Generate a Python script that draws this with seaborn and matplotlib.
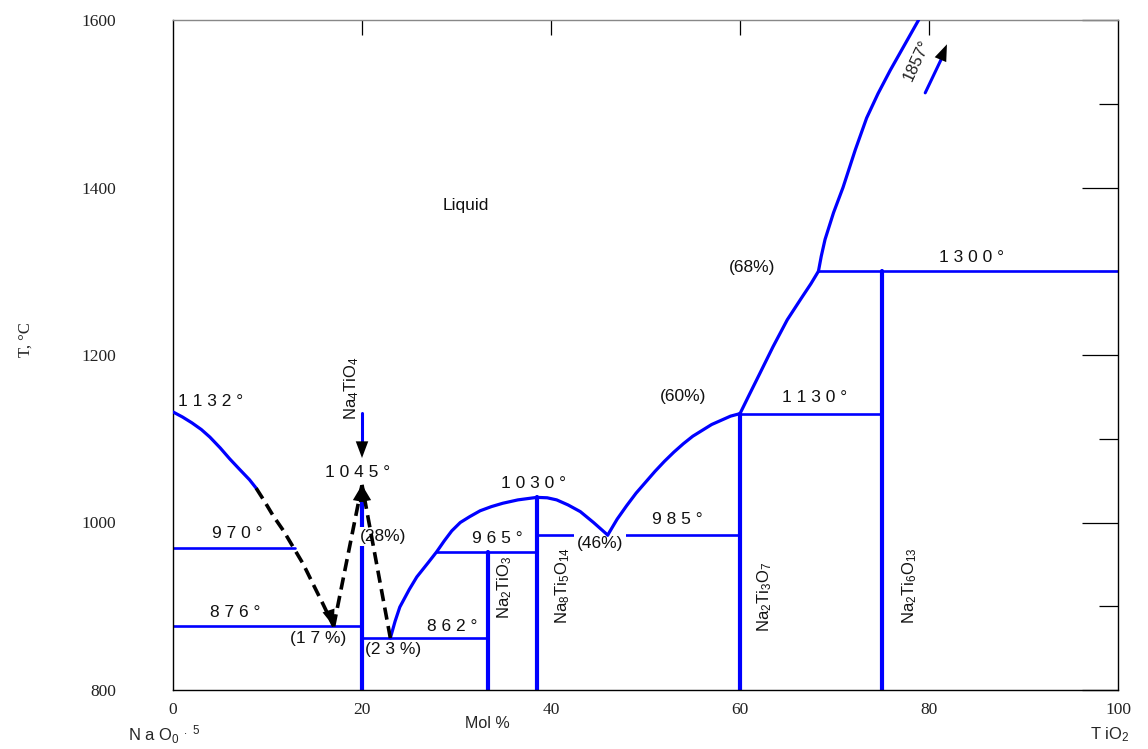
import matplotlib
matplotlib.use("Agg")
import matplotlib.pyplot as plt
from matplotlib.ticker import MultipleLocator
import seaborn as sns

# ---- phase-diagram data: NaO0.5 - TiO2 (mol % TiO2, temperature in deg C) ----
# liquidus, Na-rich side (solid part)
liq_na_x = [0, 1.0, 2.0, 3.0, 3.9, 5.0, 6.0, 7.0, 8.1, 8.8]
liq_na_t = [1132, 1126, 1119, 1111, 1102, 1089, 1076, 1064, 1051, 1041]
# uncertain (dashed) liquidus branches
dash_a_x = [8.8, 9.7, 10.6, 11.7, 12.7, 13.8, 14.8, 15.9, 17.0]
dash_a_t = [1041, 1025, 1008, 990, 971, 950, 927, 902, 876]
dash_b_x = [17.0, 20.0]
dash_b_t = [876, 1045]
dash_c_x = [23.0, 20.0]
dash_c_t = [862, 1045]
# liquidus between 23 % and 46 %
liq_mid_x = [23.0, 23.5, 24.0, 25.0, 25.8, 27.0, 27.9, 28.7, 29.5, 30.4, 31.4,
             32.5, 33.7, 34.9, 36.5, 38.5, 39.6, 40.6, 41.8, 43.1, 44.5, 46.0]
liq_mid_t = [862, 882, 899, 920, 935, 952, 965, 978, 990, 1000, 1007,
             1014, 1019, 1023, 1027, 1030, 1029.5, 1027, 1021, 1013, 1000, 985]
# liquidus between 46 % and 60 %
liq_r_x = [46.0, 47.0, 48.0, 49.0, 50.0, 51.0, 52.0, 53.0, 54.0, 55.0, 56.0,
           57.0, 58.0, 59.0, 60.0]
liq_r_t = [985, 1004, 1020, 1035, 1048, 1061, 1073, 1084, 1094, 1103, 1110,
           1117, 1122, 1127, 1130]
# liquidus from 60 % to 68 %
liq_u_x = [60.0, 61.0, 62.1, 63.5, 65.0, 66.5, 67.5, 68.3]
liq_u_t = [1130, 1153, 1178, 1210, 1242, 1268, 1285, 1300]
# TiO2 liquidus above 68 %
liq_ti_x = [68.3, 68.6, 69.0, 69.9, 70.9, 72.2, 73.4, 74.6, 75.9, 77.4, 78.9]
liq_ti_t = [1300, 1318, 1338, 1370, 1400, 1445, 1483, 1512, 1540, 1570, 1600]

# invariant (horizontal) lines
iso_t = [876, 970, 862, 965, 985, 1130, 1300]
iso_x0 = [0, 0, 20.0, 27.9, 38.5, 60.0, 68.3]
iso_x1 = [20.0, 12.9, 33.3, 38.5, 60.0, 75.0, 100]

# compounds (vertical lines)
comp_x = [20.0, 33.3, 38.5, 60.0, 75.0]
comp_top = [1040, 965, 1030, 1130, 1300]
comp_names = [r"Na$_4$TiO$_4$", r"Na$_2$TiO$_3$", r"Na$_8$Ti$_5$O$_{14}$",
              r"Na$_2$Ti$_3$O$_7$", r"Na$_2$Ti$_6$O$_{13}$"]
comp_lab_x = [18.9, 35.1, 41.2, 62.6, 77.9]
comp_lab_t = [1160, 923, 925, 911, 925]

# temperature / composition annotations
note_txt = ["1 1 3 2 °", "9 7 0 °", "8 7 6 °", "(1 7 %)", "(2 3 %)", "8 6 2 °",
            "9 6 5 °", "1 0 3 0 °", "9 8 5 °", "(60%)", "(68%)",
            "1 1 3 0 °", "1 3 0 0 °", "1 0 4 5 °", "Liquid"]
note_x = [4.0, 6.8, 6.6, 15.4, 23.3, 29.5, 34.3, 38.1, 53.4, 54.0, 61.3,
          67.9, 84.5, 19.5, 31.0]
note_t = [1145, 987, 893, 862, 848, 876, 981, 1046, 1003, 1150, 1305,
          1149, 1316, 1060, 1378]

x_ticks = [0, 20, 40, 60, 80, 100]
t_ticks = [800, 1000, 1200, 1400, 1600]

BLUE = "#0000FF"

sns.set_style("white")
plt.rcParams["font.family"] = ["Liberation Sans", "DejaVu Sans"]
plt.rcParams["mathtext.default"] = "regular"

fig = plt.figure(figsize=(11.48, 7.49), dpi=100)
ax = fig.add_axes([173 / 1148, 1 - 690 / 749, 945 / 1148, 670 / 749])


def line(xs, ys, **kw):
    sns.lineplot(x=xs, y=ys, sort=False, estimator=None, ax=ax,
                 legend=False, **kw)


# compounds
for cx, top in zip(comp_x, comp_top):
    line([cx, cx], [800, top], color=BLUE, lw=3.0, zorder=2)

# invariant lines
for t, x0, x1 in zip(iso_t, iso_x0, iso_x1):
    line([x0, x1], [t, t], color=BLUE, lw=1.9, zorder=2)

# liquidus
for xs, ts in [(liq_na_x, liq_na_t), (liq_mid_x, liq_mid_t), (liq_r_x, liq_r_t),
               (liq_u_x, liq_u_t), (liq_ti_x, liq_ti_t)]:
    line(xs, ts, color=BLUE, lw=2.3, zorder=5)

# dashed (estimated) liquidus branches
for xs, ts in [(dash_a_x, dash_a_t), (dash_b_x, dash_b_t), (dash_c_x, dash_c_t)]:
    line(xs, ts, color="black", lw=2.6, zorder=5, dashes=(3.4, 1.8))


def head(tip, tail):
    ax.annotate("", xy=tip, xytext=tail, zorder=6,
                arrowprops=dict(arrowstyle="-|>,head_length=1.2,head_width=0.45",
                                mutation_scale=10, color="black", lw=0,
                                shrinkA=0, shrinkB=0))


# arrowheads on the dashed branches
head((dash_a_x[-1], dash_a_t[-1]), (16.6, 890))
head((dash_b_x[-1], dash_b_t[-1]), (19.6, 1020))
head((dash_c_x[-1], dash_c_t[-1]), (20.4, 1020))

# arrow pointing at the Na4TiO4 congruent melting point
line([20.0, 20.0], [1131, 1090], color=BLUE, lw=2.2, zorder=5)
head((20.0, 1077), (20.0, 1095))

# arrow towards the TiO2 melting point (off scale)
line([79.6, 81.5], [1513, 1558], color=BLUE, lw=2.2, zorder=5)
head((81.9, 1571), (81.3, 1555))
ax.text(78.7, 1552, "1857°", rotation=65, ha="center", va="center",
        fontsize=12, color="#222222")

# annotations
for s, x, t in zip(note_txt, note_x, note_t):
    ax.text(x, t, s, ha="center", va="center", fontsize=12.5, color="#111111",
            zorder=4)
ax.text(22.2, 983, "(28%)", ha="center", va="center", fontsize=12.5,
        color="#111111", zorder=3,
        bbox=dict(fc="white", ec="none", pad=1.5))
ax.text(45.2, 975, "(46%)", ha="center", va="center", fontsize=12.5,
        color="#111111", zorder=3,
        bbox=dict(fc="white", ec="none", pad=2))

for s, x, t in zip(comp_names, comp_lab_x, comp_lab_t):
    ax.text(x, t, s, rotation=90, ha="center", va="center", fontsize=12,
            color="#111111", zorder=4)

# axes, ticks, frame
ax.set_xlim(0, 100)
ax.set_ylim(800, 1600)
ax.set_xticks(x_ticks)
ax.set_yticks(t_ticks)
ax.xaxis.set_minor_locator(MultipleLocator(10))
ax.yaxis.set_minor_locator(MultipleLocator(100))
ax.tick_params(axis="both", which="both", direction="in", color="black",
               width=0.9, top=False, right=True)
ax.tick_params(axis="y", which="major", length=26, pad=41, labelsize=12.5)
ax.tick_params(axis="y", which="minor", length=14)
ax.tick_params(axis="x", which="major", length=26, pad=9, labelsize=12.5)
ax.tick_params(axis="x", which="minor", length=13)
for lab in ax.get_xticklabels() + ax.get_yticklabels():
    lab.set_family(["Liberation Serif", "DejaVu Serif"])
    lab.set_color("#222222")
for side in ["left", "bottom", "right"]:
    ax.spines[side].set_color("black")
    ax.spines[side].set_linewidth(1.0)
ax.spines["top"].set_color("#888888")
ax.spines["top"].set_linewidth(1.0)
ax.set_xlabel("")
ax.set_ylabel("")

# short ticks along the top edge
top = ax.secondary_xaxis("top")
top.set_xticks([20, 40, 60, 80])
top.tick_params(direction="in", length=11, width=0.9, color="black",
                labeltop=False)
top.spines["top"].set_visible(False)

fig.text(26 / 1148, 1 - 340 / 749, "T, °C", rotation=90, ha="center",
         va="center", fontsize=12, family=["Liberation Serif", "DejaVu Serif"])
fig.text(487 / 1148, 1 - 723 / 749, "Mol %", ha="center", va="center",
         fontsize=11.5)
fig.text(128 / 1148, 1 - 735 / 749, r"N a O$_{0}$ $^{.\ 5}$", ha="left",
         va="center", fontsize=12)
fig.text(1090 / 1148, 1 - 735 / 749, r"T iO$_{2}$", ha="left", va="center",
         fontsize=12)

fig.savefig("out.png", dpi=100, facecolor="white")
